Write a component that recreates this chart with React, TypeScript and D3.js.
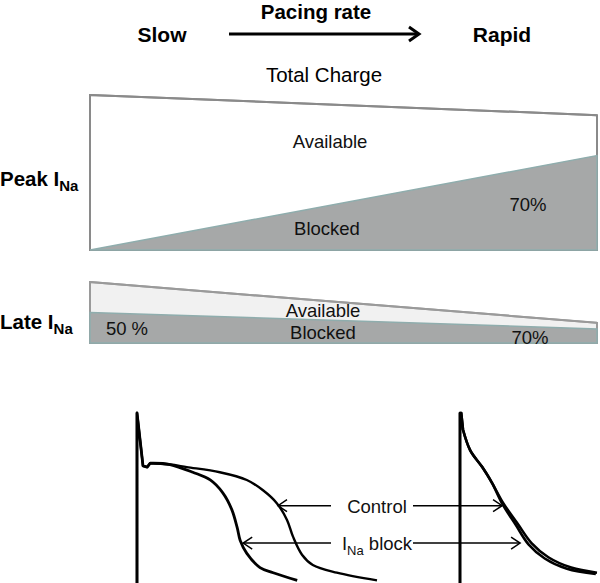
import React, { useEffect, useRef } from 'react';
import * as d3 from 'd3';

// pacing rates (x position 0 = slow, 1 = rapid)
const rates = ['Slow', 'Rapid'];
const rateX = [0, 1];

// peak INa: total available charge (relative) and blocked fraction
const peakTotal = [1, 0.87];
const peakBlocked = [0, 0.7];
const peakLabels = ['Available', 'Blocked', '70%'];

// late INa
const lateTotal = [1, 0.33];
const lateBlocked = [0.5, 0.7];
const lateLabels = ['Available', 'Blocked', '50 %', '70%'];

// action potentials, [time ms, voltage mV]; first 'spikeN' points are the upstroke/spike
const slowControl = [
  [0, -92], [0, 40], [10, -1], [17, -2], [22, 1], [27, 1], [55, 0], [83, -2], [138, -6],
  [183, -12], [210, -20], [233, -30], [250, -43], [260, -56], [275, -70],
  [293, -78], [333, -84], [400, -90]
];
const slowBlock = [
  [0, -92], [0, 40], [10, -1], [17, -2], [22, 1], [27, 1], [55, 0], [93, -6], [122, -12],
  [143, -22], [158, -35], [167, -49], [172, -59], [183, -69], [205, -80],
  [227, -84], [267, -90]
];
const rapidControl = [
  [0, -92], [0, 40], [2, 40], [5, 27], [17, 11], [37, -2], [53, -14], [72, -30],
  [96, -46], [119, -61], [147, -72], [185, -80], [228, -84]
];
const rapidBlock = [
  [0, -92], [0, 40], [2, 40], [5, 27], [17, 11], [37, -2], [53, -14], [71, -31],
  [93, -47], [114, -62], [141, -73], [178, -81], [226, -85]
];
const slowSpikeN = 6;
const rapidSpikeN = 4;

// arrow annotations: label, voltage, tip time on slow and rapid traces
const arrowLabels = ['Control', 'block'];
const arrowV = [-32, -61];
const arrowSlowT = [235, 177];
const arrowRapidT = [70, 100];

const App = () => {
  const svgRef = useRef(null);

  useEffect(() => {
    const svg = d3.select(svgRef.current);
    svg.selectAll('*').remove();
    const font = 'Liberation Sans, Arial, Helvetica, sans-serif';

    const x = d3.scaleLinear().domain([0, 1]).range([90, 597]);

    // header
    svg.append('text').attr('x', 316).attr('y', 19).attr('text-anchor', 'middle')
      .attr('font-weight', 'bold').attr('font-size', 20.5).attr('font-family', font).text('Pacing rate');
    const hdrX = d3.scaleLinear().domain([0, 1]).range([162, 502]);
    svg.selectAll('.rate').data(rates).enter().append('text')
      .attr('x', (d, i) => hdrX(rateX[i])).attr('y', 42).attr('text-anchor', 'middle')
      .attr('font-weight', 'bold').attr('font-size', 21).attr('font-family', font).text(d => d);
    svg.append('line').attr('x1', 229).attr('x2', 418).attr('y1', 34).attr('y2', 34)
      .attr('stroke', '#000').attr('stroke-width', 3);
    svg.append('path').attr('d', 'M409,27 L419,34 L409,41').attr('fill', 'none')
      .attr('stroke', '#000').attr('stroke-width', 3);
    svg.append('text').attr('x', 324).attr('y', 82).attr('text-anchor', 'middle')
      .attr('font-size', 20.5).attr('font-family', font).text('Total Charge');

    // row labels with subscript
    const rowLabel = (y, name) => {
      const t = svg.append('text').attr('x', 0).attr('y', y).attr('font-weight', 'bold')
        .attr('font-size', 20.5).attr('font-family', font);
      t.append('tspan').text(name + ' I');
      t.append('tspan').attr('dy', 5).attr('font-size', 15).text('Na');
    };
    rowLabel(186, 'Peak');
    rowLabel(329, 'Late');

    // peak panel
    const yPeak = d3.scaleLinear().domain([0, 1]).range([250, 95]);
    const peakTop = rateX.map((r, i) => [x(r), yPeak(peakTotal[i])]);
    const peakBlk = rateX.map((r, i) => [x(r), yPeak(peakTotal[i] * peakBlocked[i])]);
    const area = d3.area().x(d => d[0]).y0(250).y1(d => d[1]);
    svg.append('path').datum(peakTop).attr('d', area).attr('fill', '#fff')
      .attr('stroke', '#8a8a8a').attr('stroke-width', 2);
    svg.append('path').datum(peakBlk).attr('d', area).attr('fill', '#a6a8a8')
      .attr('stroke', '#8fadad').attr('stroke-width', 1.5);
    svg.append('path').datum(peakTop).attr('d', d3.line()).attr('fill', 'none')
      .attr('stroke', '#8a8a8a').attr('stroke-width', 2);
    const peakPos = [[330, 148], [327, 235], [528, 211]];
    svg.selectAll('.pk').data(peakLabels).enter().append('text')
      .attr('x', (d, i) => peakPos[i][0]).attr('y', (d, i) => peakPos[i][1])
      .attr('text-anchor', 'middle').attr('font-size', 18.5).attr('font-family', font)
      .attr('fill', '#111').text(d => d);

    // late panel
    const yLate = d3.scaleLinear().domain([0, 1]).range([343, 282]);
    const lateTop = rateX.map((r, i) => [x(r), yLate(lateTotal[i])]);
    const lateBlk = rateX.map((r, i) => [x(r), yLate(lateTotal[i] * lateBlocked[i])]);
    const areaL = d3.area().x(d => d[0]).y0(343).y1(d => d[1]);
    svg.append('path').datum(lateTop).attr('d', areaL).attr('fill', '#f1f1f1')
      .attr('stroke', '#9a9a9a').attr('stroke-width', 2);
    svg.append('path').datum(lateBlk).attr('d', areaL).attr('fill', '#a6a8a8')
      .attr('stroke', '#8fadad').attr('stroke-width', 1.5);
    svg.append('path').datum(lateTop).attr('d', d3.line()).attr('fill', 'none')
      .attr('stroke', '#9a9a9a').attr('stroke-width', 2);
    const latePos = [[323, 317], [323, 339], [127, 335], [530, 344]];
    svg.selectAll('.lt').data(lateLabels).enter().append('text')
      .attr('x', (d, i) => latePos[i][0]).attr('y', (d, i) => latePos[i][1])
      .attr('text-anchor', 'middle').attr('font-size', 18.5).attr('font-family', font)
      .attr('fill', '#111').text(d => d);

    // action potentials
    const v = d3.scaleLinear().domain([-92, 40]).range([583, 413]);
    const tSlow = d3.scaleLinear().domain([0, 400]).range([137, 377]);
    const tRapid = d3.scaleLinear().domain([0, 228]).range([460, 597]);
    const drawTrace = (pts, tx, w, n) => {
      const spike = d3.line().x(d => tx(d[0])).y(d => v(d[1]));
      const repol = d3.line().x(d => tx(d[0])).y(d => v(d[1])).curve(d3.curveCatmullRom.alpha(0.5));
      const d = spike(pts.slice(0, n)) + repol(pts.slice(n - 1)).replace(/^M[^LC]*/, '');
      svg.append('path').attr('d', d).attr('fill', 'none')
        .attr('stroke', '#000').attr('stroke-width', w).attr('stroke-linejoin', 'round');
    };
    drawTrace(slowControl, tSlow, 2.4, slowSpikeN);
    drawTrace(slowBlock, tSlow, 2.8, slowSpikeN);
    drawTrace(rapidControl, tRapid, 2.6, rapidSpikeN);
    drawTrace(rapidBlock, tRapid, 2.6, rapidSpikeN);

    // arrows
    const arrowHead = (tx, ty, dir) => {
      svg.append('path')
        .attr('d', `M${tx - dir * 9},${ty - 6} L${tx},${ty} L${tx - dir * 9},${ty + 6}`)
        .attr('fill', 'none').attr('stroke', '#000').attr('stroke-width', 1.5);
    };
    arrowLabels.forEach((lab, i) => {
      const y = v(arrowV[i]);
      const xl = tSlow(arrowSlowT[i]);
      const xr = tRapid(arrowRapidT[i]);
      svg.append('line').attr('x1', xl).attr('x2', 331).attr('y1', y).attr('y2', y)
        .attr('stroke', '#000').attr('stroke-width', 1.5);
      arrowHead(xl, y, -1);
      svg.append('line').attr('x1', 413).attr('x2', xr).attr('y1', y).attr('y2', y)
        .attr('stroke', '#000').attr('stroke-width', 1.5);
      arrowHead(xr, y, 1);
      const t = svg.append('text').attr('x', 377).attr('y', y + 7).attr('text-anchor', 'middle')
        .attr('font-size', 18.5).attr('font-family', font).attr('fill', '#111');
      if (i === 1) {
        t.append('tspan').text('I');
        t.append('tspan').attr('dy', 5).attr('font-size', 13).text('Na');
        t.append('tspan').attr('dy', -5).text(' ' + lab);
      } else {
        t.text(lab);
      }
    });
  }, []);

  return (
    <svg ref={svgRef} width={600} height={583}
      style={{ position: 'absolute', left: 0, top: 0, background: '#fff' }}></svg>
  );
};

export default App;
